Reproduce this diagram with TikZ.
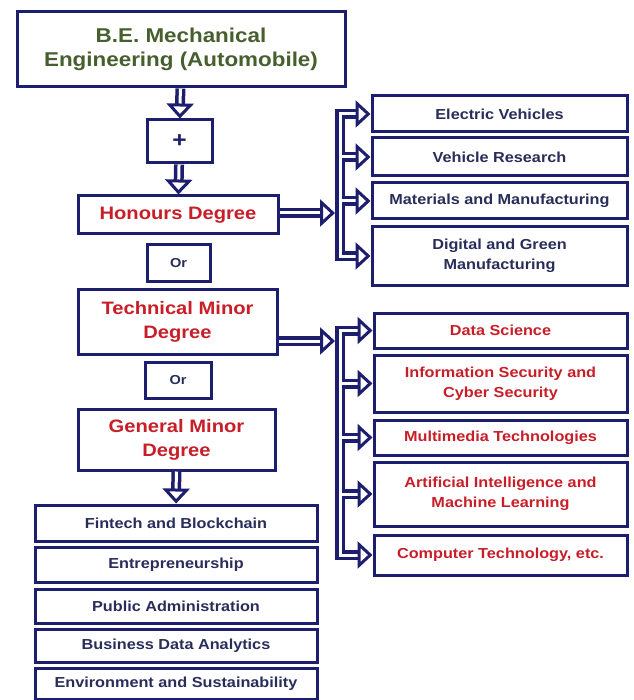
\documentclass[tikz,border=0pt]{standalone}
\usepackage{fontspec}
\setmainfont{Liberation Sans}[FakeStretch=1.12]
\usetikzlibrary{arrows.meta}
\definecolor{navy}{RGB}{30,30,110}
\definecolor{listtext}{RGB}{40,45,90}
\definecolor{degreered}{RGB}{200,30,40}
\definecolor{titlegreen}{RGB}{70,95,45}
\begin{document}
\begin{tikzpicture}[x=1pt, y=-1pt,
		node/.style={draw=navy, line width=3pt, fill=white, align=center, inner sep=0pt, font=\bfseries},
		dbl/.style={draw=navy, line width=3.5pt, double=white, double distance=3pt, -{Triangle[fill=white, length=15pt, width=27pt, line width=3pt]}},
		bracket/.style={dbl, {Triangle[fill=white, length=15pt, width=27pt, line width=3pt]}-{Triangle[fill=white, length=15pt, width=27pt, line width=3pt]}}]
		\useasboundingbox (0,0) rectangle (633,700);
		% Left column
		\node[node, minimum width=328pt, minimum height=75pt, text=titlegreen, font=\bfseries\fontsize{20}{24}\selectfont] (Main) at (181,49.5) {B.E. Mechanical\\Engineering (Automobile)};
		\node[node, minimum width=65pt, minimum height=43pt, text=navy, font=\bfseries\fontsize{22}{24}\selectfont] (Plus) at (179.5,141.5) {+};
		\node[node, minimum width=200pt, minimum height=38pt, text=degreered, font=\bfseries\fontsize{18}{22}\selectfont] (Honours) at (178,215) {Honours Degree};
		\node[node, minimum width=63pt, minimum height=36pt, text=listtext, font=\bfseries\fontsize{13}{15}\selectfont] (Or one) at (178.5,263) {Or};
		\node[node, minimum width=199pt, minimum height=65pt, text=degreered, font=\bfseries\fontsize{18}{24}\selectfont] (Technical) at (177.5,321.5) {Technical Minor\\Degree};
		\node[node, minimum width=66pt, minimum height=36pt, text=listtext, font=\bfseries\fontsize{13}{15}\selectfont] (Or two) at (178,380) {Or};
		\node[node, minimum width=197pt, minimum height=61pt, text=degreered, font=\bfseries\fontsize{18}{24}\selectfont] (General) at (176.5,439.5) {General Minor\\Degree};
		% General minor list
		\node[node, minimum width=282pt, minimum height=36pt, text=listtext, font=\bfseries\fontsize{14.5}{18}\selectfont] (Fintech) at (176,523) {Fintech and Blockchain};
		\node[node, minimum width=282pt, minimum height=35pt, text=listtext, font=\bfseries\fontsize{14.5}{18}\selectfont] (Entrepreneurship) at (176,564.5) {Entrepreneurship};
		\node[node, minimum width=282pt, minimum height=34pt, text=listtext, font=\bfseries\fontsize{14.5}{18}\selectfont] (Public) at (176,606) {Public Administration};
		\node[node, minimum width=282pt, minimum height=33pt, text=listtext, font=\bfseries\fontsize{14.5}{18}\selectfont] (Business) at (176,645.5) {Business Data Analytics};
		\node[node, minimum width=282pt, minimum height=31pt, text=listtext, font=\bfseries\fontsize{14.5}{18}\selectfont] (Environment) at (176,683.5) {Environment and Sustainability};
		% Honours list
		\node[node, minimum width=255pt, minimum height=36pt, text=listtext, font=\bfseries\fontsize{14.5}{18}\selectfont] (Electric) at (499.5,114) {Electric Vehicles};
		\node[node, minimum width=255pt, minimum height=38pt, text=listtext, font=\bfseries\fontsize{14.5}{18}\selectfont] (Research) at (499.5,157) {Vehicle Research};
		\node[node, minimum width=255pt, minimum height=36pt, text=listtext, font=\bfseries\fontsize{14.5}{18}\selectfont] (Materials) at (499.5,201) {Materials and Manufacturing};
		\node[node, minimum width=255pt, minimum height=58pt, text=listtext, font=\bfseries\fontsize{14.5}{20}\selectfont] (Digital) at (499.5,256) {Digital and Green\\Manufacturing};
		% Technical minor list
		\node[node, minimum width=253pt, minimum height=35pt, text=degreered, font=\bfseries\fontsize{14.5}{18}\selectfont] (Data) at (500.5,330.5) {Data Science};
		\node[node, minimum width=253pt, minimum height=57pt, text=degreered, font=\bfseries\fontsize{14.5}{20}\selectfont] (Security) at (500.5,383.5) {Information Security and\\Cyber Security};
		\node[node, minimum width=253pt, minimum height=35pt, text=degreered, font=\bfseries\fontsize{14.5}{18}\selectfont] (Multimedia) at (500.5,437.5) {Multimedia Technologies};
		\node[node, minimum width=253pt, minimum height=64pt, text=degreered, font=\bfseries\fontsize{14.5}{20}\selectfont] (AI) at (500.5,494) {Artificial Intelligence and\\Machine Learning};
		\node[node, minimum width=253pt, minimum height=40pt, text=degreered, font=\bfseries\fontsize{14.5}{18}\selectfont] (Computer) at (500.5,555) {Computer Technology, etc.};
		% Bars
		\coordinate (Hbar) at (340,0);
		\coordinate (Hbar out) at (341.5,0);
		\coordinate (Hjoin) at (335,213);
		\coordinate (Tbar) at (340,0);
		\coordinate (Tbar out) at (341.5,0);
		\coordinate (Tjoin) at (335,341);
		% Arrows
		\draw[dbl] (Main) -- (Plus);
		\draw[dbl] (Plus) -- (Honours);
		\draw[dbl] (General) -- (Fintech);
		\draw[bracket] (Electric.west) -- (Hbar |- Electric) -- (Hbar |- Digital) -- (Digital.west);
		\draw[dbl] (Hbar out |- Research) -- (Research);
		\draw[dbl] (Hbar out |- Materials) -- (Materials);
		\draw[dbl] (Honours.east |- Hjoin) -- (Hjoin);
		\draw[bracket] (Data.west) -- (Tbar |- Data) -- (Tbar |- Computer) -- (Computer.west);
		\draw[dbl] (Tbar out |- Security) -- (Security);
		\draw[dbl] (Tbar out |- Multimedia) -- (Multimedia);
		\draw[dbl] (Tbar out |- AI) -- (AI);
		\draw[dbl] (Technical.east |- Tjoin) -- (Tjoin);
	\end{tikzpicture}
\end{document}
